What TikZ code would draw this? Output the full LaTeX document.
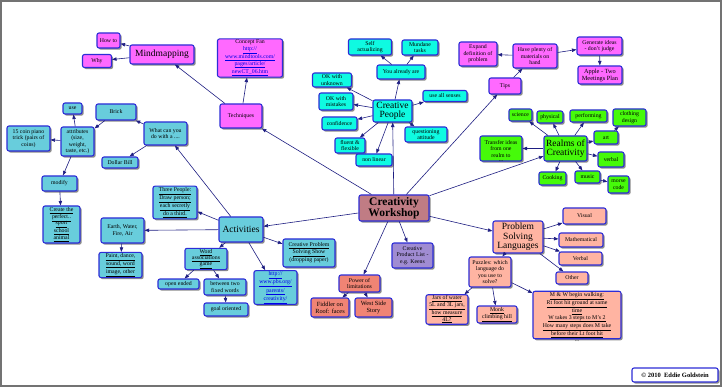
\documentclass[tikz,border=0pt]{standalone}
\usepackage{fontspec}
\setmainfont{Liberation Serif}
\usepackage{tikz}
\usetikzlibrary{arrows.meta,shadows}
\usepackage{xcolor}

\definecolor{boxblue}{RGB}{45,45,215}
\definecolor{linkblue}{RGB}{30,30,130}
\definecolor{urlblue}{RGB}{0,0,230}
\definecolor{mmpink}{RGB}{255,105,255}
\definecolor{aqua}{RGB}{15,250,225}
\definecolor{skyteal}{RGB}{104,205,220}
\definecolor{leaf}{RGB}{70,250,10}
\definecolor{salmon}{RGB}{255,180,162}
\definecolor{darksalmon}{RGB}{240,132,116}
\definecolor{lilac}{RGB}{160,140,210}
\definecolor{mauve}{RGB}{192,124,132}

\newcommand{\lnk}[1]{\textcolor{urlblue}{\underline{#1}}}
\newcommand{\ul}[1]{\underline{#1}}

\begin{document}
\begin{tikzpicture}[
  x=1pt, y=-1pt,
  box/.style={draw=boxblue, line width=1.1pt, rounded corners=2pt, align=center, inner sep=1pt,
    font=\fontsize{5.8}{6.5}\selectfont,
    drop shadow={shadow xshift=1.6pt, shadow yshift=-1.6pt, fill=black!45, opacity=1}},
  big/.style={font=\fontsize{9.5}{9.5}\selectfont},
  wh/.style 2 args={minimum width=#1pt, minimum height=#2pt},
  pinkbox/.style={box, fill=mmpink},
  aquabox/.style={box, fill=aqua},
  tealbox/.style={box, fill=skyteal},
  leafbox/.style={box, fill=leaf},
  salbox/.style={box, fill=salmon},
  dsalbox/.style={box, fill=darksalmon},
  arr/.style={-{Triangle[length=4.5pt,width=3.4pt]}, draw=linkblue, line width=0.6pt}
]
\useasboundingbox (0,0) rectangle (722,387);
\fill[white] (0,0) rectangle (722,387);
\draw[black!55, line width=2pt] (1,1) rectangle (720.5,385.5);

% centre
\node[box, fill=mauve, wh={70}{26}, font=\fontsize{11.5}{11}\selectfont\bfseries] (workshop) at (394,208) {Creativity\\Workshop};

% techniques
\node[pinkbox, wh={42}{24}] (techniques) at (241,116) {Techniques};
\node[pinkbox, big, wh={64}{19}] (mindmap) at (162,54.5) {Mindmapping};
\node[pinkbox, wh={23}{15}] (howto) at (108.5,40.5) {How to};
\node[pinkbox, wh={29}{13}] (why) at (97,61) {Why};
\node[pinkbox, wh={65}{37}] (fan) at (250,58) {Concept Fan\\\lnk{http://}\\\lnk{www.mindtools.com/}\\\lnk{pages/article/}\\\lnk{newCT\_06.htm}};

% creative people
\node[aquabox, big, wh={39}{22}] (people) at (392.5,111) {Creative\\People};
\node[aquabox, wh={48}{14}] (already) at (401,72) {You already are};
\node[aquabox, wh={43}{16}] (selfact) at (370,47) {Self\\actualizing};
\node[aquabox, wh={36}{15}] (mundane) at (420,47.5) {Mundane\\tasks};
\node[aquabox, wh={39}{14}] (unknown) at (332,80) {OK with\\unknown};
\node[aquabox, wh={34}{17}] (mistakes) at (336,101.5) {OK with\\mistakes};
\node[aquabox, wh={35}{13}] (confidence) at (339.5,123.5) {confidence};
\node[aquabox, wh={44}{11}] (senses) at (445,96) {use all senses};
\node[aquabox, wh={42}{15}] (questioning) at (426,134.5) {questioning\\attitude};
\node[aquabox, wh={30}{15}] (fluent) at (350,145.5) {fluent \&\\flexible};
\node[aquabox, wh={36}{12}] (nonlinear) at (374,160) {non linear};

% tips
\node[pinkbox, wh={32}{16}] (tips) at (505,86) {Tips};
\node[pinkbox, wh={44}{24}] (plenty) at (535,56) {Have plenty of\\materials on\\hand};
\node[pinkbox, wh={38}{24}] (expand) at (478,54) {Expand\\definition of\\problem};
\node[pinkbox, wh={45}{18}] (generate) at (599.5,46) {Generate ideas\\- don't judge};
\node[pinkbox, wh={44}{18}, font=\fontsize{6.3}{7}\selectfont] (apple) at (600,75) {Apple - Two\\Meetings Plan};

% realms
\node[leafbox, big, wh={43}{25}] (realms) at (565.5,148.5) {Realms of\\Creativity};
\node[leafbox, wh={23}{12}] (science) at (520.5,115) {science};
\node[leafbox, wh={26}{12}] (physical) at (550,117) {physical};
\node[leafbox, wh={37}{12}] (performing) at (588.5,116) {performing};
\node[leafbox, wh={33}{17}] (clothing) at (629.5,117.5) {clothing\\design};
\node[leafbox, wh={24}{13}] (art) at (606,137.5) {art};
\node[leafbox, wh={26}{15}] (verbal) at (611,159.5) {verbal};
\node[leafbox, wh={27}{13}] (cooking) at (552.5,178.5) {Cooking};
\node[leafbox, wh={25}{12}] (music) at (587.5,177) {music};
\node[leafbox, wh={21}{17}] (morse) at (618.5,184.5) {morse\\code};
\node[leafbox, wh={42}{25}, label={[font=\fontsize{5.8}{6}\selectfont, inner sep=0pt, yshift=1pt]below:...}] (transfer) at (501,148.5) {Transfer ideas\\from one\\realm to};

% problem solving
\node[salbox, big, wh={50}{32}] (psl) at (518,237) {Problem\\Solving\\Languages};
\node[salbox, wh={43}{16}] (visual) at (584.5,216) {Visual};
\node[salbox, wh={44}{14}] (math) at (581,240) {Mathematical};
\node[salbox, wh={43}{13}] (verbalL) at (580.5,258.5) {Verbal};
\node[salbox, wh={32}{12}] (other) at (572,278) {Other};
\node[salbox, wh={42}{30}] (puzzles) at (490,272) {Puzzles: which\\language do\\you use to\\solve?};
\node[salbox, wh={42}{29}] (jars) at (447,309.5) {\ul{Jars of water}\\\ul{5L and 3L jars,}\\\ul{how measure}\\\ul{4L?}};
\node[salbox, wh={40}{17}] (monk) at (497,314.5) {\ul{Monk}\\\ul{climbing hill}};
\node[salbox, wh={88}{45}, font=\fontsize{5.8}{6.3}\selectfont, label={[font=\fontsize{5.8}{6}\selectfont, inner sep=0pt, yshift=-1.5pt]below:...}] (walking) at (577,315) {\ul{M \& W begin walking:}\\\ul{Rt foot hit ground at same}\\\ul{time}\\\ul{W takes 3 steps to M's 2}\\\ul{How many steps does M take}\\\ul{before their Lt foot hit}};

% products and limits
\node[box, fill=lilac, wh={41}{25}] (product) at (412.5,255.5) {Creative\\Product List -\\e.g. Keens};
\node[dsalbox, wh={41}{17}] (power) at (359.5,283.5) {Power of\\limitations};
\node[dsalbox, wh={38}{19}, font=\fontsize{6.3}{7}\selectfont] (fiddler) at (330,307.5) {Fiddler on\\Roof: faces};
\node[dsalbox, wh={37}{19}, font=\fontsize{6.3}{7}\selectfont] (westside) at (373.5,307.5) {West Side\\Story};

% activities
\node[tealbox, big, wh={44}{25}] (activities) at (241,229.5) {Activities};
\node[tealbox, wh={44}{29}] (threepeople) at (175,202.5) {\ul{Three People:}\\\ul{Draw person;}\\\ul{each secretly}\\\ul{do a third.}};
\node[tealbox, wh={43}{25}] (earth) at (122.5,230.5) {Earth, Water,\\Fire, Air};
\node[tealbox, wh={43}{24}] (paint) at (120.5,265) {\ul{Paint, dance,}\\\ul{sound, word}\\\ul{image, other}};
\node[tealbox, wh={42}{20}] (wordassoc) at (206,259) {\ul{Word}\\\ul{associations}\\[-1pt]\ul{game}};
\node[tealbox, wh={41}{10}] (openended) at (178.5,284) {open ended};
\node[tealbox, wh={42}{16}] (between) at (225,287) {between two\\fixed words};
\node[tealbox, wh={44}{13}] (goal) at (226,309.5) {goal oriented};
\node[tealbox, wh={43}{29}] (pbs) at (275.5,287.5) {\lnk{http://}\\\lnk{www.pbs.org/}\\\lnk{parents/}\\\lnk{creativity/}};
\node[tealbox, wh={52}{28}] (cpss) at (309,253) {\ul{Creative Problem}\\\ul{Solving Show}\\(dropping paper)};
\node[tealbox, wh={43}{23}] (whatcan) at (165.5,133.5) {What can you\\do with a ....};
\node[tealbox, wh={40}{16}] (brick) at (116,112) {Brick};
\node[tealbox, wh={36}{11}] (dollar) at (120,162.5) {Dollar Bill};
\node[tealbox, wh={33}{29}] (attributes) at (77.5,141.5) {attributes\\(size,\\weight,\\taste, etc.)};
\node[tealbox, wh={19}{11}] (use) at (72.5,108.5) {use};
\node[tealbox, wh={43}{25}] (coin) at (28.5,138.5) {15 coin piano\\trick (pairs of\\coins)};
\node[tealbox, wh={35}{15}] (modify) at (59.5,183.5) {modify};
\node[tealbox, wh={37}{37}] (perfect) at (61.5,224.5) {\ul{Create the}\\\ul{perfect..}\\\ul{sport}\\\ul{school}\\\ul{animal}};

% copyright
\node[box, fill=white, wh={86}{14}, font=\fontsize{6.5}{7}\selectfont\bfseries] (copyright) at (675,375) {\textcopyright{} 2010~~Eddie Goldstein};

% connectors
\draw[arr] (workshop) -- (techniques);
\draw[arr] (techniques) -- (mindmap);
\draw[arr] (techniques) -- (fan);
\draw[arr] (mindmap) -- (howto);
\draw[arr] (mindmap) -- (why);

\draw[arr] (workshop) -- (people);
\draw[arr] (people) -- (already);
\draw[arr] (already) -- (selfact);
\draw[arr] (already) -- (mundane);
\draw[arr] (people) -- (unknown);
\draw[arr] (people) -- (mistakes);
\draw[arr] (people) -- (confidence);
\draw[arr] (people) -- (senses);
\draw[arr] (people) -- (questioning);
\draw[arr] (people) -- (fluent);
\draw[arr] (people) -- (nonlinear);

\draw[arr] (workshop) -- (tips);
\draw[arr] (tips) -- (plenty);
\draw[arr] (plenty) -- (expand);
\draw[arr] (plenty) -- (generate);
\draw[arr] (generate) -- (apple);

\draw[arr] (workshop) -- (realms);
\draw[arr] (realms) -- (science);
\draw[arr] (realms) -- (physical);
\draw[arr] (realms) -- (performing);
\draw[arr] (realms) -- (art);
\draw[arr] (art) -- (clothing);
\draw[arr] (realms) -- (verbal);
\draw[arr] (realms) -- (cooking);
\draw[arr] (realms) -- (music);
\draw[arr] (music) -- (morse);
\draw[arr] (realms) -- (transfer);

\draw[arr] (workshop) -- (psl);
\draw[arr] (psl) -- (visual);
\draw[arr] (psl) -- (math);
\draw[arr] (psl) -- (verbalL);
\draw[arr] (psl) -- (other);
\draw[arr] (psl) -- (puzzles);
\draw[arr] (puzzles) -- (jars);
\draw[arr] (puzzles) -- (monk);
\draw[arr] (puzzles) -- (walking);

\draw[arr] (workshop) -- (product);
\draw[arr] (workshop) -- (power);
\draw[arr] (power) -- (fiddler);
\draw[arr] (power) -- (westside);

\draw[arr] (workshop) -- (activities);
\draw[arr] (activities) -- (whatcan);
\draw[arr] (activities) -- (threepeople);
\draw[arr] (activities) -- (earth);
\draw[arr] (earth) -- (paint);
\draw[arr] (activities) -- (wordassoc);
\draw[arr] (wordassoc) -- (openended);
\draw[arr] (wordassoc) -- (between);
\draw[arr] (between) -- (goal);
\draw[arr] (activities) -- (pbs);
\draw[arr] (activities) -- (cpss);
\draw[arr] (whatcan) -- (brick);
\draw[arr] (whatcan) -- (dollar);
\draw[arr] (brick) -- (attributes);
\draw[arr] (attributes) -- (use);
\draw[arr] (attributes) -- (coin);
\draw[arr] (attributes) -- (modify);
\draw[arr] (modify) -- (perfect);
\end{tikzpicture}
\end{document}
